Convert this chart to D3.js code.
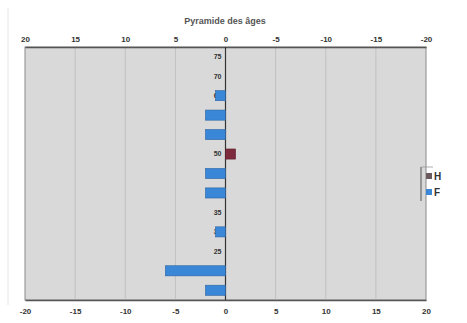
<!DOCTYPE html>
<html>
<head>
<meta charset="utf-8">
<script src="https://cdn.jsdelivr.net/npm/d3@7"></script>
<style>
  html, body { margin: 0; padding: 0; background: #fff; }
  svg { display: block; }
  text { font-family: "Liberation Sans", Arial, sans-serif; }
</style>
</head>
<body>
<svg id="chart" width="467" height="323"></svg>
<script>
// Age groups, top to bottom
const ages = ["75", "70", "65", "60", "55", "50", "45", "40", "35", "30", "25", "20", "15"];
// Men (positive, to the right) and women (negative, to the left)
const hommes = [0, 0, 0, 0, 0, 1, 0, 0, 0, 0, 0, 0, 0];
const femmes = [0, 0, -1, -2, -2, 0, -2, -2, 0, -1, 0, -6, -2];
const bottomTicks = [-20, -15, -10, -5, 0, 5, 10, 15, 20];
const topTicks = [20, 15, 10, 5, 0, -5, -10, -15, -20];
const seriesNames = ["H", "F"];
const colors = { H: "#7d2a3c", F: "#3a87d8" };

const svg = d3.select("#chart");
const plot = { left: 25, right: 426, top: 47, bottom: 300 };

const x = d3.scaleLinear().domain([-20, 20]).range([plot.left, plot.right]);
const xTop = d3.scaleLinear().domain([20, -20]).range([plot.left, plot.right]);
const y = d3.scaleBand().domain(ages).range([plot.top, plot.bottom]).paddingInner(0.48).paddingOuter(0.24);
const fmt = d => String(d); // plain hyphen for negatives

// Faint outer chart frame
svg.append("line").attr("x1", 8).attr("x2", 8).attr("y1", 8).attr("y2", 305)
  .attr("stroke", "#e6e6e6").attr("stroke-width", 1);

// Plot background
svg.append("rect")
  .attr("x", plot.left).attr("y", plot.top)
  .attr("width", plot.right - plot.left).attr("height", plot.bottom - plot.top)
  .attr("fill", "#d9d9d9").attr("stroke", "#8a8a8a").attr("stroke-width", 1);

// Vertical gridlines
svg.append("g").selectAll("line")
  .data(bottomTicks.filter(d => d !== 0 && Math.abs(d) !== 20))
  .join("line")
  .attr("x1", d => x(d)).attr("x2", d => x(d))
  .attr("y1", plot.top).attr("y2", plot.bottom)
  .attr("stroke", "#c0c0c0").attr("stroke-width", 1);

// Title
svg.append("text")
  .attr("x", 225).attr("y", 24)
  .attr("text-anchor", "middle")
  .attr("font-size", 9).attr("font-weight", "bold").attr("fill", "#555")
  .text("Pyramide des âges");

// Bottom axis
const gBottom = svg.append("g").attr("transform", `translate(0,${plot.bottom})`)
  .call(d3.axisBottom(x).tickValues(bottomTicks).tickFormat(fmt).tickSize(0).tickPadding(8));
gBottom.select(".domain").attr("stroke", "#555").attr("stroke-width", 1.5);
gBottom.selectAll("text").attr("font-size", 8).attr("font-weight", "bold").attr("fill", "#333")
  .attr("font-family", "'Liberation Sans', Arial, sans-serif");

// Top axis (reversed)
const gTop = svg.append("g").attr("transform", `translate(0,${plot.top})`)
  .call(d3.axisTop(xTop).tickValues(topTicks).tickFormat(fmt).tickSize(0).tickPadding(5));
gTop.select(".domain").attr("stroke", "#555").attr("stroke-width", 1.5);
gTop.selectAll("text").attr("font-size", 8).attr("font-weight", "bold").attr("fill", "#333")
  .attr("font-family", "'Liberation Sans', Arial, sans-serif");

// Category labels next to the zero axis (bars are drawn over them)
svg.append("g").selectAll("text")
  .data(ages)
  .join("text")
  .attr("x", x(0) - 4)
  .attr("y", d => y(d) + y.bandwidth() / 2)
  .attr("dy", "0.35em")
  .attr("text-anchor", "end")
  .attr("font-size", 7).attr("font-weight", "bold").attr("fill", "#333")
  .text(d => d);

// Zero axis line
svg.append("line")
  .attr("x1", x(0)).attr("x2", x(0))
  .attr("y1", plot.top).attr("y2", plot.bottom)
  .attr("stroke", "#333").attr("stroke-width", 1.2);

// Bars
const rows = ages.map((a, i) => ({ age: a, H: hommes[i], F: femmes[i] }));
seriesNames.forEach(s => {
  svg.append("g").selectAll("rect")
    .data(rows.filter(r => r[s] !== 0))
    .join("rect")
    .attr("x", r => x(Math.min(0, r[s])))
    .attr("y", r => y(r.age))
    .attr("width", r => Math.abs(x(r[s]) - x(0)))
    .attr("height", y.bandwidth())
    .attr("fill", colors[s])
    .attr("stroke", d3.color(colors[s]).darker(0.8))
    .attr("stroke-width", 0.6);
});

// Legend
const lg = svg.append("g").attr("transform", "translate(421,167)");
lg.append("line").attr("x1", 0).attr("x2", 0).attr("y1", 0).attr("y2", 34)
  .attr("stroke", "#555").attr("stroke-width", 1);
lg.append("line").attr("x1", 0).attr("x2", 12).attr("y1", 0).attr("y2", 0)
  .attr("stroke", "#999").attr("stroke-width", 0.8);
seriesNames.forEach((s, i) => {
  lg.append("rect").attr("x", 5).attr("y", 6 + i * 16).attr("width", 6).attr("height", 6)
    .attr("fill", i === 0 ? "#6a5a5e" : colors[s]);
  lg.append("text").attr("x", 13).attr("y", 9 + i * 16).attr("dy", "0.35em")
    .attr("font-size", 10).attr("font-weight", "bold").attr("fill", "#333")
    .text(s);
});
</script>
</body>
</html>
